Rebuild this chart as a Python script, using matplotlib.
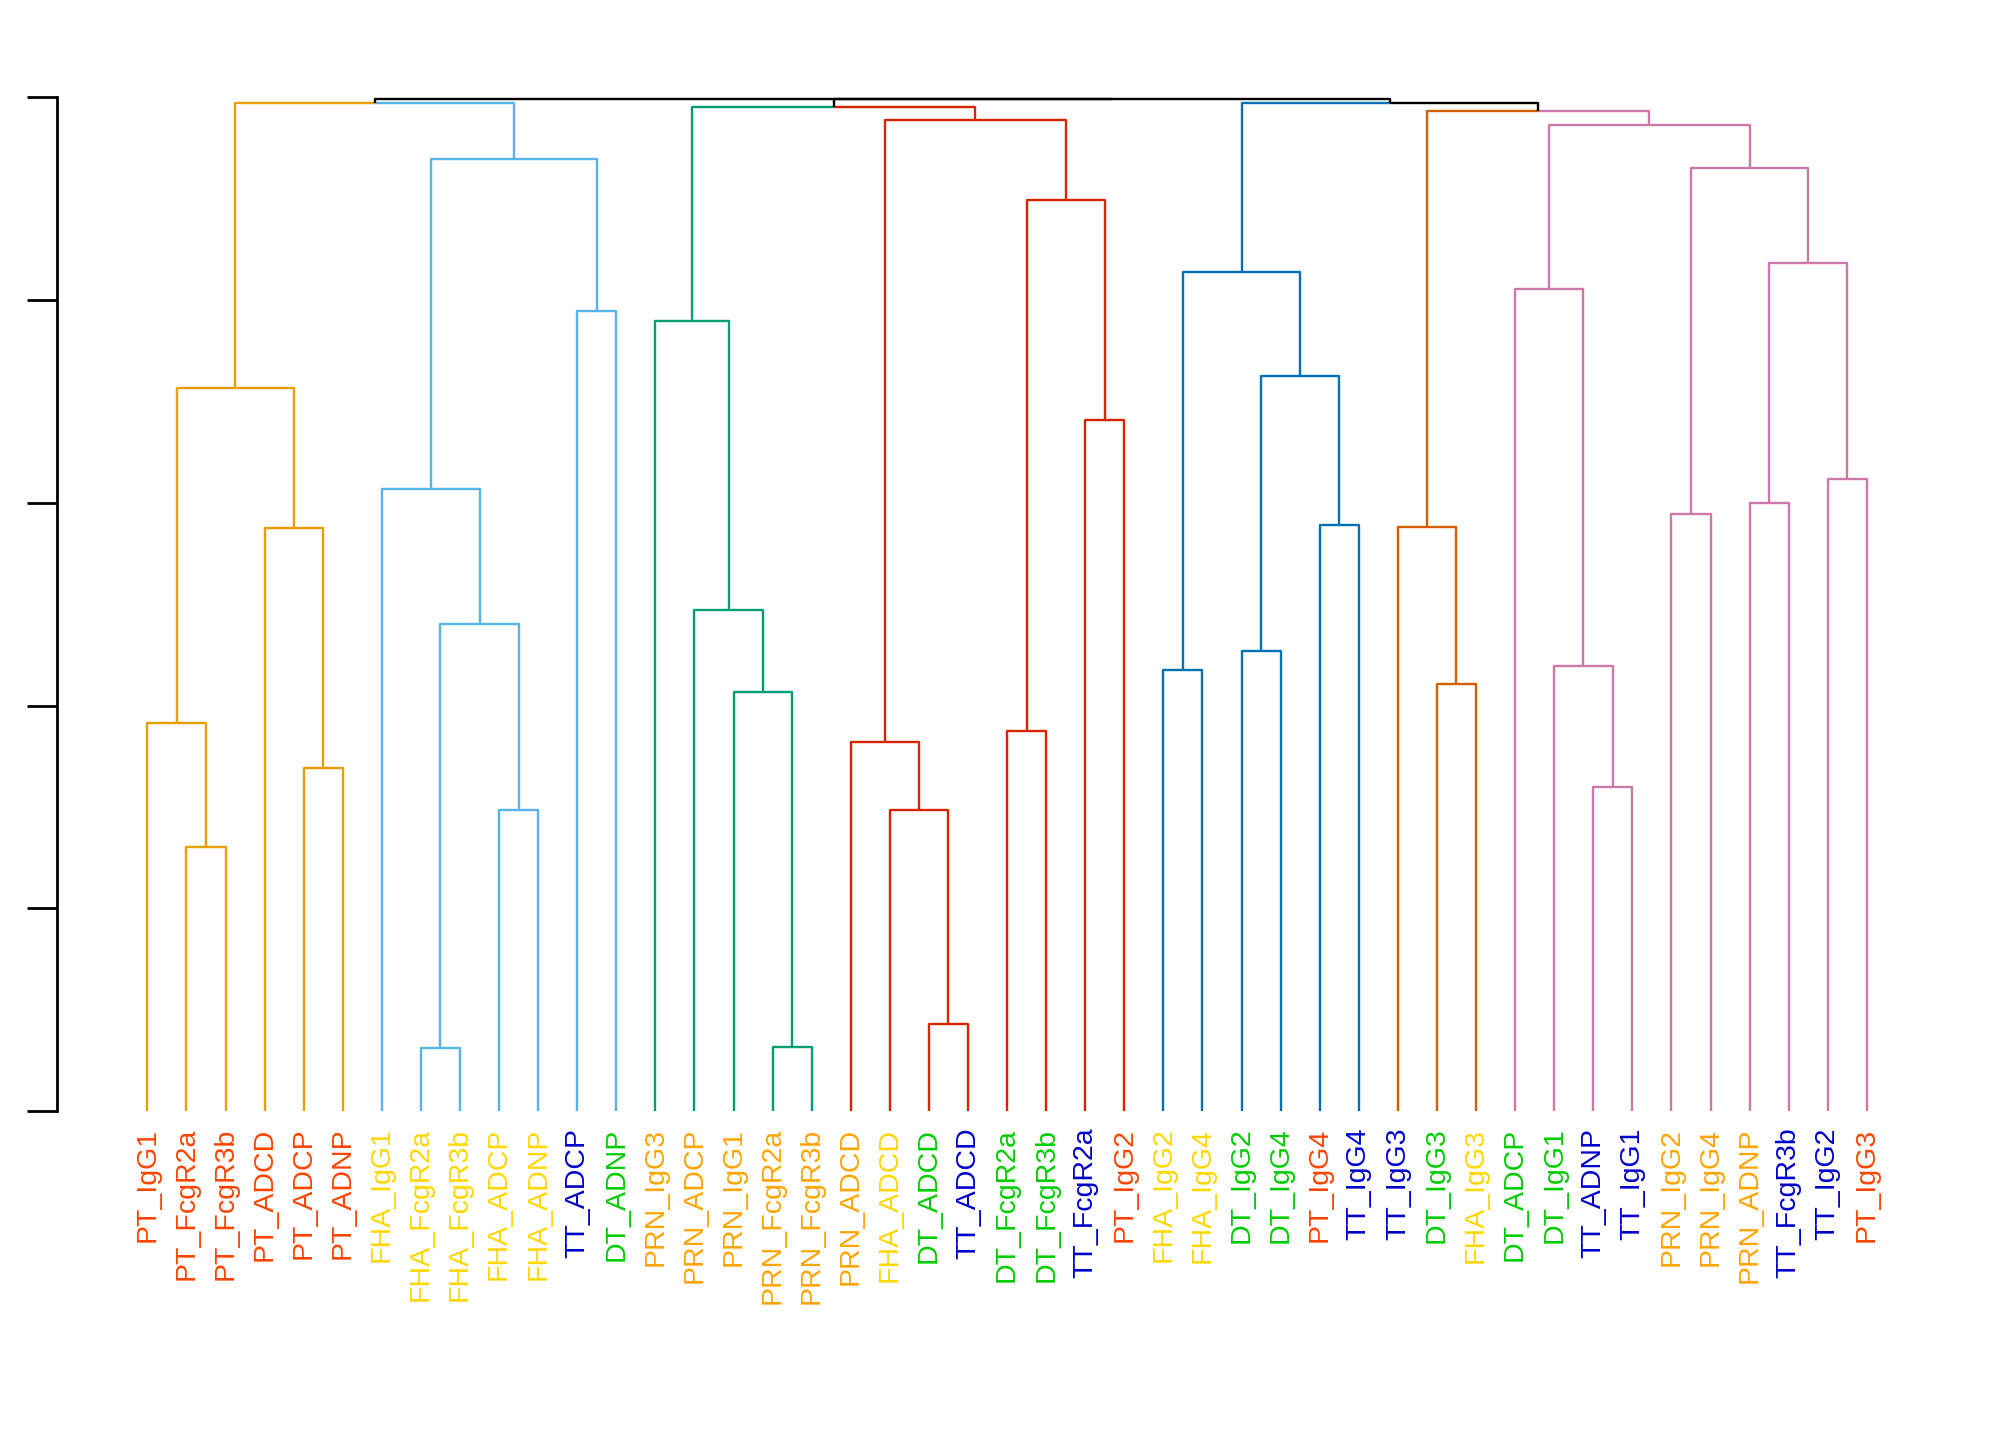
import matplotlib
matplotlib.use("Agg")
import matplotlib.pyplot as plt

plt.rcParams['font.family'] = ['Liberation Sans', 'DejaVu Sans']

# leaf order, left to right
labels = ["PT_IgG1", "PT_FcgR2a", "PT_FcgR3b", "PT_ADCD", "PT_ADCP", "PT_ADNP",
          "FHA_IgG1", "FHA_FcgR2a", "FHA_FcgR3b", "FHA_ADCP", "FHA_ADNP",
          "TT_ADCP", "DT_ADNP",
          "PRN_IgG3", "PRN_ADCP", "PRN_IgG1", "PRN_FcgR2a", "PRN_FcgR3b",
          "PRN_ADCD", "FHA_ADCD", "DT_ADCD", "TT_ADCD", "DT_FcgR2a", "DT_FcgR3b",
          "TT_FcgR2a", "PT_IgG2",
          "FHA_IgG2", "FHA_IgG4", "DT_IgG2", "DT_IgG4", "PT_IgG4", "TT_IgG4",
          "TT_IgG3", "DT_IgG3", "FHA_IgG3",
          "DT_ADCP", "DT_IgG1", "TT_ADNP", "TT_IgG1", "PRN_IgG2", "PRN_IgG4",
          "PRN_ADNP", "TT_FcgR3b", "TT_IgG2", "PT_IgG3"]

# label colour by antigen
antigen_colors = {"PT": "#FF4500", "FHA": "#FFD700", "TT": "#0000CD",
                  "DT": "#00CD00", "PRN": "#FFA500"}

# merges: (node, left, right, height)
merges = [
    ("a1", "PT_FcgR2a", "PT_FcgR3b", 1.300),
    ("a2", "PT_IgG1", "a1", 1.915),
    ("a3", "PT_ADCP", "PT_ADNP", 1.692),
    ("a4", "PT_ADCD", "a3", 2.876),
    ("A", "a2", "a4", 3.565),
    ("b1", "FHA_FcgR2a", "FHA_FcgR3b", 0.311),
    ("b2", "FHA_ADCP", "FHA_ADNP", 1.483),
    ("b3", "b1", "b2", 2.402),
    ("b4", "FHA_IgG1", "b3", 3.067),
    ("b5", "TT_ADCP", "DT_ADNP", 3.948),
    ("B", "b4", "b5", 4.696),
    ("AB", "A", "B", 4.973),
    ("c1", "PRN_FcgR2a", "PRN_FcgR3b", 0.317),
    ("c2", "PRN_IgG1", "c1", 2.066),
    ("c3", "PRN_ADCP", "c2", 2.471),
    ("C", "PRN_IgG3", "c3", 3.897),
    ("d1", "DT_ADCD", "TT_ADCD", 0.431),
    ("d2", "FHA_ADCD", "d1", 1.483),
    ("d3", "PRN_ADCD", "d2", 1.819),
    ("d4", "DT_FcgR2a", "DT_FcgR3b", 1.876),
    ("d5", "TT_FcgR2a", "PT_IgG2", 3.409),
    ("d6", "d4", "d5", 4.493),
    ("D", "d3", "d6", 4.886),
    ("CD", "C", "D", 4.954),
    ("e1", "FHA_IgG2", "FHA_IgG4", 2.174),
    ("e2", "DT_IgG2", "DT_IgG4", 2.269),
    ("e3", "PT_IgG4", "TT_IgG4", 2.890),
    ("e4", "e2", "e3", 3.625),
    ("E", "e1", "e4", 4.138),
    ("f1", "DT_IgG3", "FHA_IgG3", 2.104),
    ("F", "TT_IgG3", "f1", 2.883),
    ("g1", "TT_ADNP", "TT_IgG1", 1.597),
    ("g2", "DT_IgG1", "g1", 2.193),
    ("g3", "DT_ADCP", "g2", 4.056),
    ("g4", "PRN_IgG2", "PRN_IgG4", 2.947),
    ("g5", "PRN_ADNP", "TT_FcgR3b", 2.998),
    ("g6", "TT_IgG2", "PT_IgG3", 3.118),
    ("g7", "g5", "g6", 4.183),
    ("g8", "g4", "g7", 4.651),
    ("G", "g3", "g8", 4.865),
    ("FG", "F", "G", 4.935),
    ("EFG", "E", "FG", 4.973),
    ("CDEFG", "CD", "EFG", 4.992),
    ("root", "AB", "CDEFG", 4.992),
]

# branch colour for each of the 7 clusters
cluster_colors = {"A": "#E69F00", "B": "#56B4E9", "C": "#009E73", "D": "#D82400",
                  "E": "#0072B2", "F": "#D55E00", "G": "#CC79A7"}

# positions and heights of every node
xpos = {}
height = {}
for i, lab in enumerate(labels):
    xpos[lab] = i + 1
    height[lab] = 0.0
children = {}
for node, l, r, h in merges:
    xpos[node] = (xpos[l] + xpos[r]) / 2.0
    height[node] = h
    children[node] = (l, r)

# colour each node: everything below a cluster top gets the cluster colour
color = {}
def paint(node, col):
    color[node] = col
    if node in children:
        for c in children[node]:
            paint(c, col)

for node, l, r, h in merges:
    color.setdefault(node, "black")
for top, col in cluster_colors.items():
    paint(top, col)

fig = plt.figure(figsize=(20.16, 14.4), dpi=100)
ax = fig.add_axes([0.0731, 0.2285, 0.926 - 0.0731, 0.9324 - 0.2285])

lw = 1.7
for node, l, r, h in merges:
    for c in (l, r):
        ax.plot([xpos[node], xpos[c], xpos[c]], [h, h, height[c]],
                color=color[c], lw=lw, solid_capstyle='butt', clip_on=False)

ax.set_xlim(1, len(labels))
ax.set_ylim(0, 5)

# y axis: ticks only, no numbers
for s in ['top', 'right', 'bottom']:
    ax.spines[s].set_visible(False)
ax.spines['left'].set_position(('outward', 65))
ax.spines['left'].set_bounds(0, 5)
ax.spines['left'].set_linewidth(2.0)
ax.set_yticks([0, 1, 2, 3, 4, 5])
ax.tick_params(axis='y', length=21.6, width=2.0, labelleft=False)

# leaf labels
ax.set_xticks(range(1, len(labels) + 1))
ax.set_xticklabels(labels, rotation=90, fontsize=20.5)
ax.tick_params(axis='x', length=0, pad=12)
for t, lab in zip(ax.get_xticklabels(), labels):
    t.set_color(antigen_colors[lab.split("_")[0]])

fig.savefig("out.png", dpi=100)
